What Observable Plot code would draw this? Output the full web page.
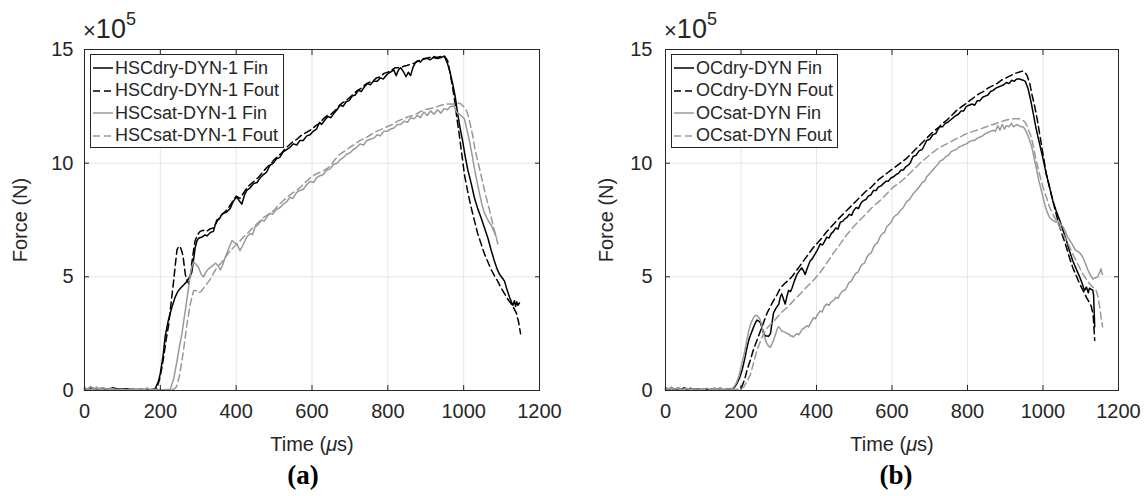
<!DOCTYPE html>
<html>
<head>
<meta charset="utf-8">
<script src="https://cdn.jsdelivr.net/npm/d3@7"></script>
<script src="https://cdn.jsdelivr.net/npm/@observablehq/plot@0.6"></script>
<style>
  body { margin: 0; background: #fff; }
  #wrap { position: relative; width: 1148px; height: 496px; display: flex; font-family: "Liberation Sans", Arial, sans-serif; color: #262626; }
  .panel { position: relative; width: 574px; height: 496px; }
  .legend { position: absolute; top: 54px; height: 90px; border: 1px solid #262626; background: #fff; padding-top: 2px; box-sizing: content-box; }
  .row { height: 22.5px; display: flex; align-items: center; font-size: 18px; white-space: nowrap; }
  .row svg { margin-left: 2px; margin-right: 2px; }
  .mult { position: absolute; top: 8px; font-size: 27px; line-height: 28px; }
  .mult .x { font-size: 22px; }
  .mult sup { font-size: 18px; position: relative; top: -3px; }
  .cap { position: absolute; top: 458px; width: 100px; text-align: center; font-family: "Liberation Serif", "Times New Roman", serif; font-weight: bold; font-size: 27px; line-height: 34px; color: #000; }
</style>
</head>
<body>
<div id="wrap"></div>
<script>
// ---------- tick values and labels ----------
const xTicks = [0, 200, 400, 600, 800, 1000, 1200];
const yTicks = [0, 5, 10, 15];
const xLabel = "Time (μs)";
const yLabel = "Force (N)";
const captions = ["(a)", "(b)"];
const legendA = ["HSCdry-DYN-1 Fin", "HSCdry-DYN-1 Fout", "HSCsat-DYN-1 Fin", "HSCsat-DYN-1 Fout"];
const legendB = ["OCdry-DYN Fin", "OCdry-DYN Fout", "OCsat-DYN Fin", "OCsat-DYN Fout"];

// ---------- series: [time (μs), force (×10^5 N)] ----------
const hscDryFin = [[0,0.1],[10,0.05],[20,0.12],[30,0.04],[45,0.1],[60,0.05],[75,0.12],[90,0.05],[110,0.08],[130,0.03],[150,0.06],[165,0.02],[180,0.05],[187,0.1],[195,0.4],[200,0.75],[207,1.5],[213,2.4],[220,3.0],[226,3.4],[233,3.8],[239,4.1],[246,4.35],[253,4.5],[262,4.65],[270,4.8],[277,5.0],[283,5.2],[288,5.8],[292,6.3],[297,6.6],[301,6.7],[310,6.75],[318,6.85],[323,6.8],[332,6.95],[340,7.0],[345,7.3],[349,7.5],[356,7.55],[362,7.75],[367,7.8],[375,7.85],[384,8.0],[392,8.3],[398,8.45],[402,8.5],[408,8.35],[415,8.2],[422,8.6],[428,8.8],[436,8.9],[446,9.1],[455,9.15],[463,9.35],[472,9.5],[480,9.6],[489,9.9],[498,10.0],[507,10.2],[515,10.25],[524,10.5],[533,10.6],[542,10.7],[551,10.85],[560,10.8],[568,11.0],[577,11.0],[586,11.2],[595,11.25],[603,11.4],[612,11.5],[620,11.8],[625,11.7],[634,11.9],[642,12.05],[650,12.0],[658,12.2],[666,12.35],[674,12.55],[682,12.5],[690,12.7],[698,12.75],[706,12.95],[714,13.0],[722,13.2],[730,13.15],[738,13.35],[746,13.5],[754,13.45],[762,13.6],[772,13.6],[780,13.75],[788,13.7],[798,13.9],[806,14.0],[816,14.1],[822,13.85],[828,14.1],[834,14.2],[842,14.0],[848,13.8],[854,14.0],[860,13.85],[866,14.2],[872,14.4],[878,14.5],[886,14.45],[894,14.6],[904,14.6],[912,14.55],[920,14.65],[931,14.6],[940,14.65],[949,14.7],[953,14.55],[957,14.4],[964,14.0],[971,13.5],[978,12.9],[984,12.2],[990,11.6],[997,11.0],[1004,10.3],[1011,9.7],[1020,9.1],[1028,8.5],[1037,8.0],[1046,7.6],[1055,7.15],[1064,6.7],[1072,6.2],[1081,5.7],[1088,5.35],[1095,5.1],[1102,4.95],[1108,4.8],[1114,4.45],[1121,4.1],[1126,3.9],[1130,3.75],[1134,3.95],[1137,3.7],[1140,3.9],[1143,3.75],[1147,3.85]];
const hscDryFout = [[0,0.05],[15,0.1],[30,0.05],[50,0.08],[70,0.02],[90,0.06],[110,0.03],[130,0.05],[150,0.02],[170,0.04],[185,0.03],[191,0.1],[198,0.5],[204,1.0],[209,1.5],[215,2.2],[222,2.9],[228,3.8],[235,4.8],[240,5.6],[244,6.2],[249,6.35],[253,6.3],[257,6.1],[260,5.9],[263,5.5],[266,5.1],[270,4.85],[275,4.7],[279,5.0],[283,5.6],[288,6.2],[292,6.6],[298,6.85],[305,7.0],[313,7.05],[322,7.0],[330,7.1],[340,7.15],[350,7.45],[360,7.7],[370,7.85],[380,8.05],[390,8.3],[400,8.55],[410,8.45],[420,8.7],[430,8.95],[440,9.1],[450,9.25],[460,9.4],[470,9.6],[480,9.8],[490,9.95],[500,10.15],[510,10.3],[520,10.45],[530,10.65],[540,10.8],[550,10.95],[560,11.05],[570,11.2],[580,11.3],[590,11.4],[600,11.5],[610,11.65],[620,11.75],[630,11.95],[640,12.1],[650,12.15],[660,12.3],[670,12.5],[680,12.65],[690,12.75],[700,12.9],[710,13.05],[720,13.2],[730,13.3],[740,13.45],[750,13.55],[760,13.6],[770,13.75],[780,13.8],[790,13.95],[800,14.0],[810,14.1],[820,14.2],[830,14.2],[840,14.25],[850,14.3],[860,14.35],[870,14.4],[880,14.5],[890,14.55],[900,14.6],[910,14.65],[920,14.7],[930,14.65],[940,14.7],[950,14.7],[958,14.5],[965,13.9],[975,12.9],[982,12.0],[988,11.3],[995,10.4],[1002,9.5],[1010,8.8],[1019,8.1],[1028,7.5],[1037,6.9],[1046,6.45],[1055,6.0],[1064,5.65],[1073,5.3],[1081,5.05],[1090,4.8],[1099,4.5],[1108,4.25],[1117,4.0],[1126,3.8],[1133,3.6],[1139,3.4],[1145,3.0],[1150,2.5]];
const hscSatFin = [[0,0.15],[8,0.05],[16,0.18],[24,0.05],[32,0.15],[40,0.04],[50,0.12],[60,0.05],[70,0.1],[85,0.03],[100,0.06],[120,0.02],[140,0.05],[155,0.02],[165,0.12],[172,0.03],[185,0.05],[200,0.02],[215,0.04],[226,0.05],[235,0.5],[244,1.3],[250,1.9],[257,2.5],[263,3.2],[270,4.0],[275,4.6],[279,5.1],[284,5.5],[288,5.65],[294,5.55],[301,5.4],[308,5.1],[314,5.0],[320,5.2],[327,5.35],[335,5.45],[345,5.6],[352,5.5],[358,5.3],[364,5.5],[371,5.85],[378,6.15],[384,6.4],[389,6.6],[396,6.5],[402,6.45],[406,6.3],[410,6.15],[418,6.4],[428,6.75],[436,6.9],[443,6.85],[450,7.2],[458,7.3],[467,7.5],[474,7.45],[482,7.65],[489,7.8],[496,7.75],[505,7.95],[516,8.05],[524,8.2],[533,8.3],[542,8.5],[550,8.45],[559,8.7],[568,8.8],[577,8.85],[586,9.05],[595,9.2],[604,9.15],[612,9.35],[621,9.45],[630,9.5],[639,9.7],[648,9.75],[657,9.95],[666,10.0],[674,10.15],[683,10.25],[692,10.4],[700,10.45],[709,10.6],[718,10.7],[727,10.85],[736,10.8],[745,11.0],[754,11.05],[763,11.1],[772,11.25],[780,11.2],[789,11.4],[798,11.4],[807,11.5],[816,11.55],[825,11.7],[834,11.7],[843,11.85],[852,11.8],[860,12.0],[869,11.95],[878,12.1],[886,12.0],[895,12.25],[904,12.1],[913,12.3],[922,12.15],[931,12.35],[940,12.2],[948,12.4],[957,12.35],[966,12.5],[975,12.5],[980,12.3],[984,12.2],[993,12.1],[1002,11.95],[1008,11.5],[1015,11.0],[1022,10.4],[1028,9.8],[1035,9.2],[1042,8.65],[1048,8.2],[1055,7.8],[1064,7.5],[1073,7.25],[1080,7.0],[1086,6.75]];
const hscSatFout = [[0,0.08],[20,0.04],[40,0.08],[60,0.03],[80,0.06],[100,0.02],[120,0.05],[140,0.02],[160,0.05],[180,0.02],[200,0.04],[220,0.02],[235,0.05],[242,0.15],[250,0.6],[257,1.3],[263,2.0],[270,2.9],[275,3.4],[279,3.8],[284,4.15],[288,4.4],[294,4.4],[301,4.3],[307,4.35],[314,4.5],[323,4.7],[332,4.9],[340,5.15],[349,5.4],[360,5.6],[371,5.85],[382,6.1],[393,6.3],[406,6.5],[419,6.75],[432,6.95],[446,7.2],[459,7.4],[472,7.6],[485,7.75],[498,7.9],[511,8.15],[524,8.35],[538,8.55],[550,8.7],[560,8.8],[570,8.95],[582,9.15],[595,9.35],[608,9.5],[621,9.6],[634,9.7],[647,9.85],[660,10.15],[674,10.4],[688,10.55],[700,10.7],[714,10.85],[727,11.0],[740,11.1],[755,11.25],[770,11.4],[784,11.5],[798,11.6],[812,11.7],[826,11.85],[840,11.95],[855,12.05],[869,12.1],[884,12.25],[898,12.35],[912,12.4],[925,12.45],[940,12.55],[955,12.6],[968,12.6],[975,12.6],[985,12.65],[993,12.6],[1002,12.45],[1008,12.3],[1015,11.9],[1020,11.5],[1024,11.2],[1030,10.6],[1037,10.1],[1044,9.6],[1051,9.1],[1057,8.65],[1064,8.2],[1071,7.75],[1077,7.3],[1084,6.85],[1090,6.45]];

const ocDryFin = [[0,0.1],[8,0.03],[16,0.12],[24,0.04],[32,0.1],[40,0.03],[50,0.12],[58,0.04],[66,0.1],[75,0.03],[85,0.08],[95,0.03],[105,0.06],[115,0.02],[125,0.08],[135,0.03],[145,0.1],[155,0.03],[165,0.08],[175,0.05],[182,0.12],[189,0.3],[196,0.55],[203,0.9],[210,1.4],[216,1.9],[222,2.3],[229,2.6],[236,2.9],[242,3.1],[247,3.05],[251,3.0],[256,2.75],[260,2.5],[265,2.4],[269,2.4],[273,2.38],[278,2.5],[282,2.95],[286,3.4],[292,3.6],[300,3.8],[304,4.1],[308,4.25],[312,4.05],[317,3.8],[321,4.1],[326,4.4],[331,4.35],[335,4.5],[341,4.8],[348,5.1],[354,5.25],[361,5.4],[366,5.25],[370,5.1],[376,5.4],[383,5.7],[389,5.8],[396,6.0],[403,6.2],[410,6.45],[416,6.4],[421,6.55],[427,6.75],[433,6.7],[439,6.9],[445,7.0],[451,7.15],[457,7.1],[463,7.4],[470,7.45],[475,7.55],[480,7.6],[487,7.75],[493,7.7],[498,7.9],[505,8.05],[511,8.0],[518,8.25],[524,8.35],[531,8.4],[537,8.55],[544,8.6],[551,8.8],[558,8.8],[564,8.95],[571,9.0],[577,9.1],[584,9.2],[590,9.2],[597,9.35],[604,9.4],[611,9.5],[617,9.55],[624,9.7],[630,9.7],[637,9.85],[642,9.9],[648,10.0],[656,10.3],[664,10.35],[672,10.55],[680,10.6],[686,10.8],[692,11.0],[700,11.05],[708,11.25],[716,11.3],[722,11.5],[727,11.6],[734,11.6],[741,11.75],[748,11.8],[755,11.9],[762,12.0],[770,12.1],[776,12.15],[783,12.3],[790,12.3],[797,12.5],[804,12.55],[812,12.6],[819,12.55],[826,12.75],[833,12.75],[840,12.9],[847,12.95],[854,13.0],[861,13.15],[868,13.2],[875,13.3],[882,13.35],[889,13.4],[896,13.45],[903,13.55],[910,13.5],[917,13.65],[924,13.6],[930,13.7],[938,13.7],[947,13.65],[953,13.6],[960,13.3],[967,12.8],[974,12.2],[982,11.5],[991,10.85],[1000,10.2],[1009,9.5],[1018,8.9],[1026,8.35],[1035,7.9],[1044,7.5],[1053,7.05],[1062,6.6],[1070,6.15],[1079,5.7],[1088,5.35],[1097,5.0],[1104,4.7],[1110,4.4],[1115,4.55],[1120,4.3],[1123,4.5],[1128,4.45],[1132,4.4],[1134,4.2],[1137,2.8]];
const ocDryFout = [[0,0.05],[15,0.1],[30,0.04],[45,0.08],[60,0.03],[75,0.07],[90,0.03],[105,0.06],[120,0.02],[135,0.05],[150,0.02],[165,0.04],[180,0.02],[195,0.05],[203,0.2],[210,0.5],[216,0.9],[225,1.35],[233,1.8],[242,2.2],[251,2.6],[260,3.0],[269,3.4],[278,3.7],[286,3.95],[295,4.2],[304,4.5],[315,4.7],[326,4.85],[337,5.05],[348,5.3],[359,5.55],[370,5.8],[381,6.05],[392,6.3],[403,6.5],[414,6.7],[425,6.95],[436,7.15],[447,7.35],[458,7.55],[470,7.75],[482,7.95],[494,8.15],[506,8.35],[518,8.55],[530,8.75],[542,8.9],[554,9.1],[566,9.3],[578,9.45],[590,9.6],[602,9.75],[614,9.9],[626,10.05],[638,10.2],[650,10.4],[662,10.6],[674,10.8],[686,11.0],[698,11.2],[710,11.4],[722,11.55],[734,11.75],[746,11.9],[758,12.1],[770,12.3],[782,12.45],[794,12.6],[806,12.75],[818,12.9],[830,13.05],[842,13.15],[854,13.3],[866,13.4],[878,13.5],[890,13.65],[902,13.75],[914,13.85],[926,13.95],[936,14.0],[945,14.05],[952,14.0],[958,13.85],[965,13.5],[971,13.0],[978,12.5],[985,11.9],[991,11.3],[1000,10.4],[1009,9.5],[1018,8.9],[1026,8.35],[1035,7.75],[1044,7.2],[1053,6.75],[1062,6.3],[1070,5.85],[1079,5.4],[1088,5.05],[1097,4.7],[1106,4.4],[1115,4.1],[1122,3.9],[1128,3.7],[1133,3.3],[1137,2.2]];
const ocSatFin = [[0,0.15],[8,0.05],[16,0.15],[24,0.05],[35,0.12],[45,0.04],[55,0.1],[65,0.04],[80,0.08],[95,0.03],[110,0.1],[120,0.03],[130,0.12],[138,0.04],[146,0.1],[155,0.03],[165,0.08],[175,0.05],[181,0.15],[188,0.35],[194,0.6],[200,1.0],[207,1.5],[213,2.0],[220,2.6],[226,2.95],[233,3.2],[238,3.3],[242,3.3],[247,3.2],[251,3.1],[256,2.8],[260,2.5],[264,2.25],[269,2.05],[273,1.95],[278,1.9],[282,2.05],[286,2.2],[292,2.5],[297,2.75],[300,2.8],[305,2.7],[309,2.6],[313,2.6],[318,2.55],[322,2.5],[326,2.5],[331,2.4],[335,2.4],[339,2.35],[344,2.45],[349,2.5],[353,2.45],[357,2.55],[362,2.7],[368,2.75],[374,2.85],[379,2.8],[385,3.0],[392,3.2],[397,3.15],[403,3.35],[410,3.5],[415,3.45],[421,3.7],[427,3.8],[433,3.75],[439,3.9],[445,3.95],[451,4.1],[457,4.05],[463,4.25],[470,4.4],[475,4.4],[480,4.55],[486,4.75],[492,4.8],[498,5.0],[504,5.15],[510,5.2],[515,5.4],[521,5.55],[527,5.6],[533,5.85],[539,6.0],[545,6.05],[551,6.3],[557,6.45],[562,6.5],[568,6.75],[574,6.9],[580,6.95],[586,7.2],[592,7.3],[598,7.4],[603,7.6],[609,7.7],[615,7.75],[621,7.9],[630,8.05],[638,8.3],[646,8.4],[656,8.65],[664,8.8],[672,8.95],[680,9.15],[686,9.2],[692,9.4],[700,9.55],[708,9.7],[716,9.85],[722,9.95],[727,10.1],[735,10.15],[743,10.3],[750,10.35],[756,10.5],[762,10.55],[770,10.6],[777,10.7],[783,10.75],[790,10.8],[797,10.85],[805,10.95],[812,11.0],[819,11.0],[826,11.1],[833,11.15],[840,11.2],[847,11.3],[854,11.35],[861,11.4],[868,11.45],[874,11.4],[880,11.65],[886,11.45],[892,11.7],[898,11.5],[903,11.65],[910,11.6],[916,11.75],[922,11.6],[930,11.7],[936,11.65],[942,11.6],[947,11.6],[952,11.5],[958,11.3],[965,11.0],[972,10.6],[978,10.1],[982,9.8],[988,9.3],[994,8.9],[1000,8.5],[1006,8.1],[1012,7.8],[1018,7.6],[1024,7.5],[1030,7.45],[1035,7.4],[1041,7.45],[1047,7.3],[1053,7.2],[1059,7.0],[1065,6.75],[1071,6.6],[1077,6.45],[1083,6.25],[1088,6.15],[1094,6.1],[1100,6.0],[1106,5.85],[1112,5.6],[1119,5.3],[1125,5.1],[1132,4.9],[1138,4.95],[1145,5.0],[1150,5.2],[1154,5.35],[1156,5.15],[1158,5.1]];
const ocSatFout = [[0,0.05],[20,0.1],[40,0.04],[60,0.08],[80,0.03],[100,0.06],[120,0.02],[140,0.05],[160,0.02],[180,0.04],[195,0.03],[207,0.15],[216,0.4],[225,0.7],[233,1.2],[242,1.75],[251,2.15],[260,2.5],[269,2.75],[278,2.9],[287,3.05],[295,3.2],[308,3.45],[322,3.65],[339,3.95],[357,4.25],[374,4.55],[392,4.85],[410,5.2],[427,5.6],[445,6.05],[463,6.45],[480,6.85],[498,7.2],[515,7.5],[533,7.8],[550,8.1],[568,8.35],[586,8.65],[603,8.95],[621,9.15],[638,9.4],[656,9.7],[674,10.0],[692,10.25],[710,10.5],[727,10.7],[745,10.85],[762,11.0],[780,11.15],[797,11.3],[815,11.4],[833,11.5],[850,11.6],[868,11.7],[885,11.8],[903,11.9],[920,11.95],[938,11.95],[950,11.85],[956,11.7],[962,11.45],[969,11.15],[975,10.7],[982,10.1],[991,9.5],[1000,8.95],[1009,8.5],[1018,8.05],[1026,7.75],[1035,7.5],[1044,7.2],[1053,6.9],[1062,6.6],[1071,6.3],[1079,6.0],[1088,5.7],[1097,5.4],[1106,5.1],[1115,4.9],[1123,4.7],[1132,4.55],[1141,4.4],[1146,4.1],[1150,3.7],[1154,3.2],[1158,2.8]];

// ---------- styling ----------
const seriesStyles = [
  {stroke: "#000000"},
  {stroke: "#000000", strokeDasharray: "7,4"},
  {stroke: "#999999"},
  {stroke: "#999999", strokeDasharray: "7,4"}
];

function makeChart(series, m) {
  const svg = Plot.plot({
    width: 574, height: 460,
    marginLeft: m.left, marginRight: m.right, marginTop: 49, marginBottom: 70,
    style: {fontFamily: "'Liberation Sans', Arial, sans-serif", fontSize: "20px", color: "#262626", background: "transparent", overflow: "visible"},
    x: {domain: [0, 1200]},
    y: {domain: [0, 15]},
    marks: [
      Plot.gridX(xTicks, {stroke: "#e6e6e6", strokeOpacity: 1}),
      Plot.gridY(yTicks, {stroke: "#e6e6e6", strokeOpacity: 1}),
      ...series.map((s, i) => Plot.line(s, {x: d => d[0], y: d => d[1], ...seriesStyles[i], strokeWidth: 1.5})),
      Plot.frame({stroke: "#262626"}),
      Plot.axisX(xTicks, {anchor: "bottom", tickSize: -5, tickPadding: 18, tickFormat: d => String(d), fontSize: 20, label: xLabel, labelAnchor: "center", labelArrow: "none", labelOffset: 60}),
      Plot.axisX(xTicks, {anchor: "top", tickSize: -5, tickFormat: () => "", label: null}),
      Plot.axisY(yTicks, {anchor: "left", tickSize: -5, tickPadding: m.tickPad, tickFormat: d => String(d), fontSize: 20, label: yLabel, labelAnchor: "center", labelArrow: "none", labelOffset: m.yLabelOffset}),
      Plot.axisY(yTicks, {anchor: "right", tickSize: -5, tickFormat: () => "", label: null})
    ]
  });
  // italic mu in the x label
  svg.querySelectorAll("text, tspan").forEach(el => {
    if (el.children.length === 0 && el.textContent.includes("μ")) {
      const parts = el.textContent.split("μ");
      el.textContent = "";
      const ns = "http://www.w3.org/2000/svg";
      const a = document.createElementNS(ns, "tspan"); a.textContent = parts[0];
      const b = document.createElementNS(ns, "tspan"); b.textContent = "μ"; b.setAttribute("font-style", "italic");
      const c = document.createElementNS(ns, "tspan"); c.textContent = parts[1];
      el.append(a, b, c);
    }
  });
  return svg;
}

function makePanel(series, names, cap, m) {
  const panel = document.createElement("div");
  panel.className = "panel";
  panel.appendChild(makeChart(series, m));
  // ×10^5 multiplier
  const mult = document.createElement("div");
  mult.className = "mult";
  mult.style.left = (m.left - 1) + "px";
  mult.innerHTML = "<span class='x'>×</span>10<sup>5</sup>";
  panel.appendChild(mult);
  // legend
  const leg = document.createElement("div");
  leg.className = "legend";
  leg.style.left = m.legLeft + "px";
  leg.style.width = m.legWidth + "px";
  names.forEach((n, i) => {
    const row = document.createElement("div");
    row.className = "row";
    const st = seriesStyles[i];
    row.innerHTML = `<svg width="20" height="10"><line x1="0" x2="20" y1="5" y2="5" stroke="${st.stroke}" stroke-width="1.5" ${st.strokeDasharray ? `stroke-dasharray="${st.strokeDasharray}"` : ""}/></svg><span>${n}</span>`;
    leg.appendChild(row);
  });
  panel.appendChild(leg);
  // caption
  const c = document.createElement("div");
  c.className = "cap";
  c.style.left = (m.capCenter - 50) + "px";
  c.textContent = cap;
  panel.appendChild(c);
  return panel;
}

const wrap = document.getElementById("wrap");
wrap.appendChild(makePanel([hscDryFin, hscDryFout, hscSatFin, hscSatFout], legendA, captions[0],
  {left: 84, right: 35, tickPad: 16, yLabelOffset: 72, legLeft: 90, legWidth: 192, capCenter: 303}));
wrap.appendChild(makePanel([ocDryFin, ocDryFout, ocSatFin, ocSatFout], legendB, captions[1],
  {left: 91, right: 30, tickPad: 18, yLabelOffset: 67, legLeft: 97, legWidth: 165, capCenter: 322}));
</script>
</body>
</html>
